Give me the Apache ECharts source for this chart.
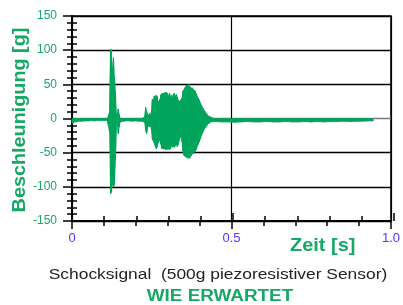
<!DOCTYPE html>
<html>
<head>
<meta charset="utf-8">
<script src="https://cdn.jsdelivr.net/npm/echarts@6/dist/echarts.min.js"></script>
<style>
  html, body { margin: 0; padding: 0; background: #fff; }
  #chart { width: 403px; height: 305px; }
</style>
</head>
<body>
<div id="chart"></div>
<script>
// envelope of the shock signal (seconds, g)
const timeS = [
  0, 0.01, 0.02, 0.03, 0.04, 0.05, 0.06, 0.07, 0.08, 0.09, 0.10, 0.11,
  0.115, 0.118, 0.121, 0.124, 0.127, 0.130, 0.133, 0.136, 0.139, 0.142, 0.145, 0.148, 0.151,
  0.16, 0.17, 0.18, 0.19, 0.20, 0.21, 0.22,
  0.228, 0.231, 0.234, 0.237, 0.240, 0.243, 0.246, 0.249, 0.252, 0.255, 0.258, 0.261, 0.264, 0.267,
  0.270, 0.273, 0.276, 0.279, 0.282, 0.285, 0.288, 0.291, 0.294, 0.297, 0.300, 0.303, 0.306, 0.309,
  0.312, 0.315, 0.318, 0.321, 0.324, 0.327, 0.330, 0.333, 0.336, 0.339, 0.342, 0.345, 0.348, 0.351,
  0.354, 0.357, 0.360, 0.363, 0.366, 0.369, 0.372, 0.375, 0.378, 0.381, 0.384, 0.387, 0.390, 0.393,
  0.396, 0.399, 0.402, 0.405, 0.408, 0.411, 0.414, 0.417, 0.420, 0.423, 0.426, 0.429, 0.432, 0.435,
  0.438, 0.441,
  0.45, 0.47, 0.49, 0.51, 0.53, 0.55, 0.57, 0.59, 0.61, 0.63, 0.65, 0.67, 0.69, 0.71, 0.73, 0.75,
  0.77, 0.79, 0.81, 0.83, 0.85, 0.87, 0.89, 0.91, 0.93, 0.945
];
const upperG = [
  -0.5, -1, -1.5, -1, -1, -0.5, -1, -1, -1, -0.5, -1, -1,
  0, 10, 101, 100, 70, 89, 60, 40, 8, 3, 14, 6, 0,
  -1, -1, -1, -1.5, -1, -1, -0.5,
  3, 16, 10, 6, 5, 8, 4, 10, 28, 25, 33, 30, 34, 33,
  24, 22, 28, 35, 37, 36, 37, 38, 35, 38, 36, 33, 37, 31,
  34, 30, 36, 37, 32, 35, 31, 27, 24, 26, 22, 30, 40, 42,
  45, 47, 49, 48, 50, 47, 46, 44, 45, 42, 41, 40, 36, 32,
  30, 27, 23, 20, 17, 15, 12, 10, 8, 6, 4, 3.5, 3, 2,
  1, 0,
  -1, -1, -1.5, -1, -1, -1.5, -1, -1, -1.5, -1, -1, -1.5, -1, -1, -1.5, -1,
  -1, -1.5, -1, -1, -1.5, -1, -1, -1.5, -2, -2.5
];
const lowerG = [
  -7, -5, -4, -4, -3.5, -3.5, -3, -3.5, -3, -3, -3, -3,
  -4, -20, -110, -108, -95, -100, -97, -60, -10, -6, -22, -12, -5,
  -4, -3.5, -3.5, -4, -3.5, -4, -4,
  -6, -18, -22, -12, -10, -12, -10, -16, -30, -32, -28, -40, -44, -42,
  -36, -30, -32, -38, -44, -43, -45, -44, -46, -42, -45, -43, -46, -44,
  -40, -42, -38, -42, -40, -37, -41, -38, -32, -28, -24, -34, -48, -54,
  -55, -56, -57, -58, -56, -58, -55, -54, -51, -52, -49, -48, -45, -40,
  -38, -34, -30, -26, -22, -19, -16, -14, -12, -10, -8, -7, -6, -5,
  -4.5, -4,
  -4.5, -5, -5, -5.5, -5, -4.5, -5, -5, -4.5, -5, -5, -4.5, -5, -5, -4.5, -5,
  -4.5, -5, -4.5, -4.5, -4, -4.5, -4, -4, -3.5, -3.5
];

const xTickValues = [0, 0.5, 1];
const xTickLabels = ['0', '0.5', '1.0'];
const yTickValues = [-150, -100, -50, 0, 50, 100, 150];

const GREEN = '#00a55c';
const TEXT_GREEN = '#16a866';
const BLUE = '#5533ff';
const FONT = 'Arial, "Liberation Sans", sans-serif';

// zigzag through the envelope so the dense oscillation keeps a ragged look
const signal = [];
for (let i = 0; i < timeS.length; i++) {
  signal.push([timeS[i], upperG[i]]);
  signal.push([timeS[i], lowerG[i]]);
}
const upperPts = timeS.map((t, i) => [t, upperG[i]]);
const lowerPts = timeS.map((t, i) => [t, lowerG[i]]);

var dom = document.getElementById('chart');
var myChart = echarts.init(dom, null, { renderer: 'canvas' });

const gridRect = { left: 72, top: 16, right: 9, bottom: 84 };

const envelopeSeries = (name, data) => ({
  type: 'line', name: name,
  xAxisIndex: 0, yAxisIndex: 0,
  data: data,
  showSymbol: false, symbol: 'none',
  sampling: null,
  lineStyle: { color: GREEN, width: 0.8 },
  areaStyle: { color: GREEN, opacity: 1, origin: 0 },
  silent: true, z: 2
});

var option = {
  backgroundColor: '#fff',
  animation: false,
  textStyle: { fontFamily: FONT },
  grid: [
    Object.assign({ show: true, borderColor: '#000', borderWidth: 1.5, backgroundColor: 'transparent' }, gridRect),
    Object.assign({ show: false }, gridRect)
  ],
  xAxis: [{
    type: 'value', gridIndex: 0, min: 0, max: 1, interval: 0.5, position: 'bottom',
    axisLine: { onZero: false, lineStyle: { color: '#000', width: 2 } },
    axisTick: { show: true, inside: false, length: 8, lineStyle: { color: '#000', width: 1.5 } },
    minorTick: { show: true, splitNumber: 5, length: 5, lineStyle: { color: '#000', width: 1.5 } },
    splitLine: { show: true, lineStyle: { color: '#000', width: 1.2 } },
    axisLabel: {
      color: BLUE, fontSize: 13, margin: 11,
      formatter: v => xTickLabels[xTickValues.indexOf(v)]
    }
  }, {
    type: 'value', gridIndex: 1, min: 0, max: 1, interval: 0.5, position: 'bottom',
    axisLine: { show: false, onZero: false },
    axisTick: { show: true, inside: true, length: 8, lineStyle: { color: '#000', width: 1.5 } },
    minorTick: { show: true, splitNumber: 5, length: 5, lineStyle: { color: '#000', width: 1.5 } },
    splitLine: { show: false },
    axisLabel: { show: false }
  }],
  yAxis: [{
    type: 'value', gridIndex: 0, min: -150, max: 150, interval: 50, position: 'left',
    axisLine: { onZero: false, lineStyle: { color: '#000', width: 2 } },
    axisTick: { show: true, inside: false, length: 9, lineStyle: { color: '#000', width: 1.5 } },
    minorTick: { show: true, splitNumber: 5, length: 5, lineStyle: { color: '#000', width: 1.5 } },
    splitLine: {
      show: true,
      lineStyle: {
        color: yTickValues.map(v => (v === 0 ? '#7a7a7a' : '#000')),
        width: 1.4
      }
    },
    axisLabel: { color: TEXT_GREEN, fontSize: 12, margin: 15 }
  }, {
    type: 'value', gridIndex: 1, min: -150, max: 150, interval: 50, position: 'left',
    axisLine: { show: false, onZero: false },
    axisTick: { show: false, inside: true },
    minorTick: { show: true, splitNumber: 5, length: 5, lineStyle: { color: '#000', width: 1.5 } },
    splitLine: { show: false },
    axisLabel: { show: false }
  }],
  graphic: [{
    type: 'text', x: 20, y: 120, rotation: Math.PI / 2, scaleX: 1.1,
    style: { text: 'Beschleunigung [g]', fill: TEXT_GREEN, font: 'bold 18px ' + FONT, textAlign: 'center', textVerticalAlign: 'middle' }
  }, {
    type: 'text', x: 290, y: 246, scaleX: 1.05,
    style: { text: 'Zeit [s]', fill: TEXT_GREEN, font: 'bold 19px ' + FONT, textVerticalAlign: 'middle' }
  }, {
    type: 'text', x: 218, y: 275, scaleX: 1.16,
    style: { text: 'Schocksignal  (500g piezoresistiver Sensor)', fill: '#222', font: '15px ' + FONT, textAlign: 'center', textVerticalAlign: 'middle' }
  }, {
    type: 'text', x: 220, y: 297, scaleX: 1.18,
    style: { text: 'WIE ERWARTET', fill: TEXT_GREEN, font: 'bold 16px ' + FONT, textAlign: 'center', textVerticalAlign: 'middle' }
  }],
  series: [
    envelopeSeries('upper', upperPts),
    envelopeSeries('lower', lowerPts),
    {
      type: 'line', name: 'signal',
      xAxisIndex: 0, yAxisIndex: 0,
      data: signal,
      showSymbol: false, symbol: 'none',
      sampling: null, clip: true,
      lineStyle: { color: GREEN, width: 1 },
      z: 3
    }
  ]
};

if (option && typeof option === "object") {
  myChart.setOption(option, true);
}
</script>
</body>
</html>
